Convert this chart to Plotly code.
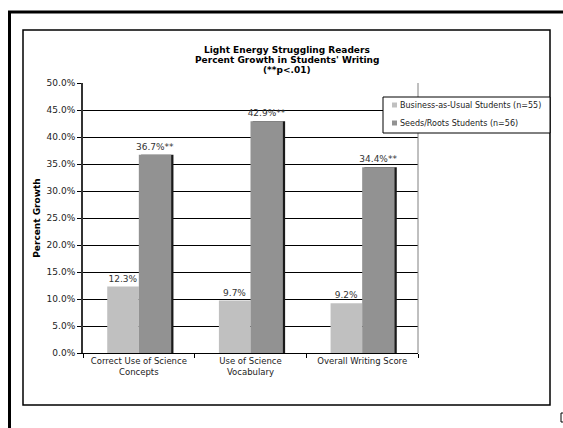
import plotly.graph_objects as go

categories = ["Correct Use of Science<br>Concepts", "Use of Science<br>Vocabulary", "Overall Writing Score"]
bau_values = [0.123, 0.097, 0.092]
seeds_values = [0.367, 0.429, 0.344]
seeds_sig = ["**", "**", "**"]
bau_name = "Business-as-Usual Students (n=55)"
seeds_name = "Seeds/Roots Students (n=56)"
title_lines = ["Light Energy Struggling Readers", "Percent Growth in Students' Writing", "(**p<.01)"]
y_ticks = [i * 0.05 for i in range(11)]

W, H = 563, 428
L, R, T, B = 83, 418, 83, 353

def px(x):
    return (x - L) / (R - L)

def py(y):
    return (B - y) / (B - T)

FONT = "DejaVu Sans, Verdana, sans-serif"
LIGHT = "#C0C0C0"
DARK = "#929292"

fig = go.Figure()
# shadow behind the dark bars
fig.add_trace(go.Bar(
    x=categories, y=seeds_values, showlegend=False, hoverinfo="skip",
    marker=dict(color="#1a1a1a", line=dict(width=0)),
    offset=0.02, width=0.29,
))
fig.add_trace(go.Bar(
    x=categories, y=bau_values, name=bau_name, showlegend=False,
    marker=dict(color=LIGHT, line=dict(width=0)),
    offset=-0.283, width=0.283,
    text=[f"{v*100:.1f}%" for v in bau_values],
    textposition="outside", cliponaxis=False, constraintext="none",
    textfont=dict(size=9, color="#333333", family=FONT),
))
fig.add_trace(go.Bar(
    x=categories, y=seeds_values, name=seeds_name, showlegend=False,
    marker=dict(color=DARK, line=dict(width=0)),
    offset=0.0, width=0.29,
    text=[f"{v*100:.1f}%{s}" for v, s in zip(seeds_values, seeds_sig)],
    textposition="outside", cliponaxis=False, constraintext="none",
    textfont=dict(size=9, color="#333333", family=FONT),
))

shapes = [
    # inner chart frame
    dict(type="rect", xref="paper", yref="paper", x0=px(23), x1=px(550), y0=py(30), y1=py(405),
         line=dict(color="#000000", width=1.5), layer="below"),
    # outer border (left + top)
    dict(type="line", xref="paper", yref="paper", x0=px(9.5), x1=px(9.5), y0=py(11), y1=py(440),
         line=dict(color="#000000", width=3)),
    dict(type="line", xref="paper", yref="paper", x0=px(8), x1=px(570), y0=py(12), y1=py(12),
         line=dict(color="#000000", width=3)),
    # plot area right border
    dict(type="line", xref="paper", yref="paper", x0=1, x1=1, y0=0, y1=1,
         line=dict(color="#808080", width=1)),
    # small fragment bottom right
    dict(type="rect", xref="paper", yref="paper", x0=px(561), x1=px(566), y0=py(413), y1=py(422),
         line=dict(color="#000000", width=1)),
    # legend box
    dict(type="rect", xref="paper", yref="paper", x0=px(383), x1=px(550), y0=py(97), y1=py(133),
         line=dict(color="#000000", width=1), fillcolor="white", layer="above"),
    # legend swatches
    dict(type="rect", xref="paper", yref="paper", x0=px(392), x1=px(397), y0=py(102.5), y1=py(107.5),
         line=dict(width=0), fillcolor=LIGHT, layer="above"),
    dict(type="rect", xref="paper", yref="paper", x0=px(392), x1=px(397), y0=py(120.5), y1=py(125.5),
         line=dict(width=0), fillcolor=DARK, layer="above"),
]

annotations = []
for i, line in enumerate(title_lines):
    annotations.append(dict(
        text=f"<b>{line}</b>", xref="paper", yref="paper",
        x=px(287), y=py(50 + 10 * i), xanchor="center", yanchor="middle",
        showarrow=False, font=dict(size=9, color="#000000", family=FONT),
    ))
for i, name in enumerate([bau_name, seeds_name]):
    annotations.append(dict(
        text=name, xref="paper", yref="paper",
        x=px(397.5), y=py(105 + 18 * i), xanchor="left", yanchor="middle",
        showarrow=False, font=dict(size=8, color="#222222", family=FONT),
    ))

fig.update_layout(
    width=W, height=H,
    margin=dict(l=L, r=W - R, t=T, b=H - B, pad=0, autoexpand=False),
    paper_bgcolor="white", plot_bgcolor="white",
    font=dict(family=FONT, size=9, color="#222222"),
    barmode="overlay",
    shapes=shapes,
    annotations=annotations,
    showlegend=False,
)
fig.update_xaxes(
    showline=True, linecolor="#000000", linewidth=1,
    ticks="outside", tickson="boundaries", ticklen=4, tickcolor="#000000",
    showgrid=False, tickfont=dict(size=8.5, color="#222222"),
    automargin=False,
)
fig.update_yaxes(
    range=[0, 0.5], tickvals=y_ticks, tickformat=".1%",
    showline=True, linecolor="#333333", linewidth=2,
    ticks="outside", ticklen=4, tickcolor="#000000",
    showgrid=True, gridcolor="#000000", gridwidth=1,
    zeroline=False, automargin=False,
    tickfont=dict(size=9, color="#222222"),
    title=dict(text="<b>Percent Growth</b>", font=dict(size=9, color="#000000"), standoff=4),
)

fig.write_html("out.html")
